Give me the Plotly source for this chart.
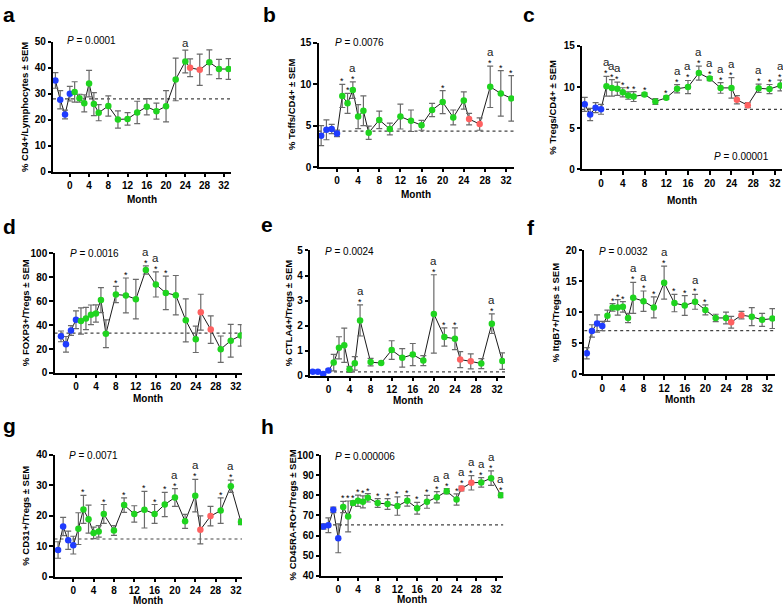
import plotly.graph_objects as go

W, H = 783, 612

# ---------------- data ----------------
months = [-3, -2, -1, 0, 1, 2, 3, 4, 5, 6, 8, 10, 12, 14, 16, 18, 20, 22, 24, 25, 27, 29, 31, 33]
phase = ["pre"] * 4 + ["on"] * 15 + ["off"] * 2 + ["on"] * 3
x_ticks = [0, 4, 8, 12, 16, 20, 24, 28, 32]

cd4_lymph = [35.2, 27.8, 22.1, 30.1, 30.8, 28.4, 26.4, 34.0, 26.1, 22.8, 25.4, 20.2, 20.4, 22.9, 25.1, 23.4, 25.3, 35.6, 42.5, 40.1, 39.3, 42.2, 39.6, 39.6]
cd4_lymph_sem = [3.0, 3.5, 1.7, 2.8, 3.9, 1.5, 3.3, 5.1, 4.4, 3.1, 3.9, 3.3, 2.4, 4.3, 3.1, 3.1, 6.0, 8.2, 4.4, 3.4, 6.0, 4.8, 3.7, 4.0]

teffs = [3.8, 4.5, 4.6, 4.07, 8.6, 7.7, 9.3, 6.1, 6.8, 4.15, 5.7, 4.6, 6.1, 5.6, 5.05, 6.9, 7.85, 6.0, 8.05, 5.8, 5.2, 9.7, 8.9, 8.3]
teffs_sem = [1.2, 1.2, 0.55, 0.4, 1.4, 1.2, 1.0, 1.45, 1.8, 0.8, 1.05, 0.7, 1.5, 1.3, 0.6, 0.8, 1.4, 0.9, 1.05, 0.7, 0.75, 2.5, 2.75, 2.75]

tregs = [7.9, 6.67, 7.5, 7.3, 10.1, 9.9, 9.8, 9.37, 8.97, 8.85, 9.1, 8.25, 8.7, 9.8, 10.0, 11.7, 11.03, 9.9, 9.9, 8.45, 7.8, 9.85, 9.76, 10.2]
tregs_sem = [0.85, 0.75, 0.6, 0.6, 1.2, 1.0, 0.8, 0.55, 0.45, 0.6, 0.2, 0.35, 0.2, 0.5, 0.8, 0.85, 0.25, 0.65, 1.25, 0.5, 0.3, 0.5, 0.55, 0.65]

foxp3 = [30.6, 24.0, 35.5, 44.5, 43.4, 45.6, 48.6, 49.7, 60.9, 32.8, 65.6, 64.8, 61.7, 86.1, 74.0, 66.9, 65.0, 44.0, 28.1, 50.8, 36.3, 19.9, 27.0, 31.4]
foxp3_sem = [4.5, 6.5, 4.0, 7.4, 11.0, 9.3, 8.2, 7.2, 10.4, 11.6, 6.8, 14.6, 16.5, 3.4, 10.5, 14.0, 16.5, 18.0, 11.0, 15.0, 11.5, 11.0, 13.7, 9.0]

ctla4 = [0.17, 0.17, 0.08, 0.22, 0.53, 1.12, 1.22, 0.26, 0.5, 2.21, 0.55, 0.51, 1.03, 0.72, 0.85, 0.61, 2.47, 1.55, 1.48, 0.65, 0.58, 0.49, 2.08, 0.59]
ctla4_sem = [0.03, 0.03, 0.03, 0.05, 0.33, 0.44, 0.68, 0.12, 0.27, 0.62, 0.15, 0.02, 0.37, 0.37, 0.44, 0.2, 1.56, 0.36, 0.43, 0.32, 0.3, 0.2, 0.39, 0.33]

itgb7 = [3.4, 7.0, 8.2, 7.8, 9.45, 10.8, 10.8, 10.9, 9.1, 12.35, 11.8, 10.8, 14.8, 11.5, 11.1, 11.7, 10.4, 9.1, 9.1, 8.4, 9.55, 9.3, 8.8, 9.0]
itgb7_sem = [0.9, 1.0, 1.4, 0.75, 0.9, 0.6, 1.25, 0.85, 0.75, 2.5, 1.65, 1.7, 2.65, 1.4, 1.6, 1.2, 0.8, 0.6, 0.95, 0.95, 0.6, 1.45, 1.05, 1.6]

cd31 = [8.8, 16.5, 12.0, 10.4, 15.8, 22.1, 18.9, 14.4, 14.9, 20.6, 15.2, 23.5, 20.6, 22.0, 20.6, 23.7, 26.0, 18.2, 26.6, 15.4, 19.9, 21.7, 29.7, 18.0]
cd31_sem = [2.7, 3.0, 3.0, 2.9, 5.2, 4.6, 4.6, 1.9, 1.9, 3.1, 1.6, 2.4, 2.7, 6.0, 3.1, 4.0, 2.9, 2.3, 5.3, 4.6, 3.2, 4.2, 2.0, 0.9]

cd45raro = [64.5, 65.1, 72.8, 58.6, 74.2, 69.5, 76.2, 77.3, 76.8, 78.8, 76.2, 75.7, 74.7, 77.3, 73.6, 76.8, 79.1, 82.1, 78.0, 83.4, 86.3, 86.5, 88.6, 80.1]
cd45raro_sem = [1.3, 3.7, 1.4, 7.2, 2.8, 7.7, 1.0, 2.8, 3.0, 2.1, 2.2, 2.7, 4.6, 2.6, 2.9, 3.2, 2.8, 1.3, 2.8, 1.2, 3.6, 2.4, 3.6, 1.2]

baselines = {"a": 28.1, "b": 4.35, "c": 7.3, "d": 33.3, "e": 0.16, "f": 7.07, "g": 12.4, "h": 65.3}
p_values = {"a": "0.0001", "b": "0.0076", "c": "0.00001", "d": "0.0016",
            "e": "0.0024", "f": "0.0032", "g": "0.0071", "h": "0.000006"}
y_titles = {"a": "% CD4+/Lymphocytes ± SEM", "b": "% Teffs/CD4+ ± SEM", "c": "% Tregs/CD4+ ± SEM",
            "d": "% FOXP3+/Tregs ± SEM", "e": "% CTLA4+/Tregs ± SEM", "f": "% ItgB7+/Tregs ± SEM",
            "g": "% CD31+/Tregs ± SEM", "h": "% CD45RA-RO+/Tregs ± SEM"}
y_ticks = {"a": [0, 10, 20, 30, 40, 50], "b": [0, 5, 10, 15], "c": [0, 5, 10, 15],
           "d": [0, 20, 40, 60, 80, 100], "e": [0, 1, 2, 3, 4, 5], "f": [0, 5, 10, 15, 20],
           "g": [0, 10, 20, 30, 40], "h": [40, 50, 60, 70, 80, 90, 100]}
star_months = {
    "a": [],
    "b": [1, 2, 3, 20, 29, 31, 33],
    "c": [1, 2, 3, 4, 5, 6, 8, 12, 14, 16, 18, 20, 22, 24, 29, 31, 33],
    "d": [8, 10, 14, 16, 18],
    "e": [6, 20, 22, 24, 31],
    "f": [2, 3, 4, 6, 8, 10, 12, 14, 16, 18, 20],
    "g": [2, 6, 10, 14, 16, 18, 20, 24, 29, 31],
    "h": [1, 2, 3, 4, 5, 6, 8, 10, 12, 14, 16, 18, 20, 22, 24, 25, 27, 29, 31, 33],
}
a_months = {
    "a": [24], "b": [3, 29], "c": [1, 2, 3, 14, 16, 18, 20, 22, 24, 29, 33], "d": [14, 16],
    "e": [6, 20, 31], "f": [6, 8, 12, 18], "g": [20, 24, 31], "h": [20, 22, 25, 27, 29, 31, 33],
}
series = {"a": (cd4_lymph, cd4_lymph_sem), "b": (teffs, teffs_sem), "c": (tregs, tregs_sem),
          "d": (foxp3, foxp3_sem), "e": (ctla4, ctla4_sem), "f": (itgb7, itgb7_sem),
          "g": (cd31, cd31_sem), "h": (cd45raro, cd45raro_sem)}

# ---------------- geometry (page pixels) ----------------
geom = {
    "a": dict(xl=53, xr=231, xr_=[-3.5, 33.5], yt=36.7, yb=169.3, let=(1, 9), yt_x=25, p=(65, 35), mon_y=197),
    "b": dict(xl=318.5, xr=514, xr_=[-3.5, 33.5], yt=37.7, yb=164.3, let=(261, 9), yt_x=291, p=(333, 37.7), mon_y=192),
    "c": dict(xl=582, xr=782, xr_=[-3.5, 33.3], yt=40.7, yb=166.7, let=(521, 9), yt_x=553, p=(712, 154), mon_y=198),
    "d": dict(xl=54.5, xr=241.7, xr_=[-4.3, 33.2], yt=252.3, yb=374.3, let=(1, 225), yt_x=25, p=(68, 252), mon_y=400),
    "e": dict(xl=310, xr=505, xr_=[-3.5, 33.5], yt=249.3, yb=377.3, let=(259, 223), yt_x=288, p=(323, 250.7), mon_y=402),
    "f": dict(xl=584.2, xr=775, xr_=[-3.5, 33.5], yt=249.3, yb=375.7, let=(525, 226), yt_x=555, p=(597, 250), mon_y=401),
    "g": dict(xl=54.5, xr=242, xr_=[-3.7, 33.2], yt=457.7, yb=582.3, let=(1, 428), yt_x=26, p=(67, 458), mon_y=606),
    "h": dict(xl=321, xr=503.4, xr_=[-3.5, 33.5], yt=458.3, yb=581, let=(259, 429), yt_x=292, p=(333, 459), mon_y=605),
}


def fx(px):
    return px / W


def fy(py):
    return 1 - py / H


colors = {"pre": "#1f3cff", "on": "#1fd41f", "off": "#ff6161"}
FONT = "Liberation Sans, Arial, sans-serif"

fig = go.Figure()
layout = {}
annotations = []

for i, key in enumerate("abcdefgh"):
    g = geom[key]
    vals, sems = series[key]
    n = "" if i == 0 else str(i + 1)
    xa, ya = "x" + n, "y" + n
    ticks = y_ticks[key]

    fig.add_trace(go.Scatter(x=g["xr_"], y=[baselines[key]] * 2, mode="lines",
                             line=dict(color="#444444", width=1.2, dash="dot"),
                             xaxis=xa, yaxis=ya, hoverinfo="skip", showlegend=False))
    fig.add_trace(go.Scatter(x=months, y=vals, mode="lines", line=dict(color="#1a1a1a", width=1),
                             xaxis=xa, yaxis=ya, showlegend=False))
    for ph in ["pre", "on", "off"]:
        idx = [j for j, p in enumerate(phase) if p == ph]
        fig.add_trace(go.Scatter(
            x=[months[j] for j in idx], y=[vals[j] for j in idx], mode="markers",
            marker=dict(color=colors[ph], size=6.5, line=dict(width=0)),
            error_y=dict(type="data", array=[sems[j] for j in idx], visible=True,
                         color="#6a6a6a", thickness=1.2, width=3),
            xaxis=xa, yaxis=ya, showlegend=False))

    layout["xaxis" + n] = dict(
        domain=[fx(g["xl"]), fx(g["xr"])], range=g["xr_"], anchor=ya,
        tickvals=x_ticks, ticks="outside", ticklen=3.5, tickwidth=1.5, tickcolor="black",
        showline=True, linecolor="black", linewidth=1.5, showgrid=False, zeroline=False,
        tickfont=dict(family=FONT, size=10, color="black", weight="bold"))
    layout["yaxis" + n] = dict(
        domain=[fy(g["yb"]), fy(g["yt"])], range=[ticks[0], ticks[-1]], anchor=xa,
        tickvals=ticks, ticks="outside", ticklen=3.5, tickwidth=1.5, tickcolor="black",
        showline=True, linecolor="black", linewidth=1.5, showgrid=False, zeroline=False,
        tickfont=dict(family=FONT, size=10, color="black", weight="bold"))

    annotations.append(dict(x=fx(g["let"][0]), y=fy(g["let"][1]), xref="paper", yref="paper",
                            text="<b>%s</b>" % key, showarrow=False, xanchor="left", yanchor="middle",
                            font=dict(family=FONT, size=21, color="black")))
    annotations.append(dict(x=fx(g["yt_x"]), y=fy((g["yt"] + g["yb"]) / 2), xref="paper", yref="paper",
                            text="<b>%s</b>" % y_titles[key], textangle=-90, showarrow=False,
                            xanchor="center", yanchor="middle",
                            font=dict(family=FONT, size=9.5, color="black")))
    annotations.append(dict(x=fx((g["xl"] + g["xr"]) / 2), y=fy(g["mon_y"]), xref="paper", yref="paper",
                            text="<b>Month</b>", showarrow=False, xanchor="center", yanchor="middle",
                            font=dict(family=FONT, size=10, color="black")))
    annotations.append(dict(x=fx(g["p"][0]), y=fy(g["p"][1]), xref="paper", yref="paper",
                            text="<i>P</i> = %s" % p_values[key], showarrow=False,
                            xanchor="left", yanchor="middle",
                            font=dict(family=FONT, size=10, color="black")))
    for m in star_months[key]:
        j = months.index(m)
        annotations.append(dict(x=m, y=vals[j] + sems[j], xref=xa, yref=ya, text="*", showarrow=False,
                                xanchor="center", yanchor="middle", yshift=3,
                                font=dict(family=FONT, size=9, color="black")))
    for m in a_months[key]:
        j = months.index(m)
        shift = 14 if m in star_months[key] else 7
        annotations.append(dict(x=m, y=vals[j] + sems[j], xref=xa, yref=ya, text="a", showarrow=False,
                                xanchor="center", yanchor="middle", yshift=shift,
                                font=dict(family=FONT, size=11.5, color="#222222")))

fig.update_layout(width=W, height=H, margin=dict(l=0, r=0, t=0, b=0),
                  paper_bgcolor="white", plot_bgcolor="rgba(0,0,0,0)",
                  annotations=annotations, showlegend=False, **layout)
fig.write_html("out.html", config={"displayModeBar": False},
               post_script="document.body.style.margin='0';document.body.style.overflow='hidden';")
